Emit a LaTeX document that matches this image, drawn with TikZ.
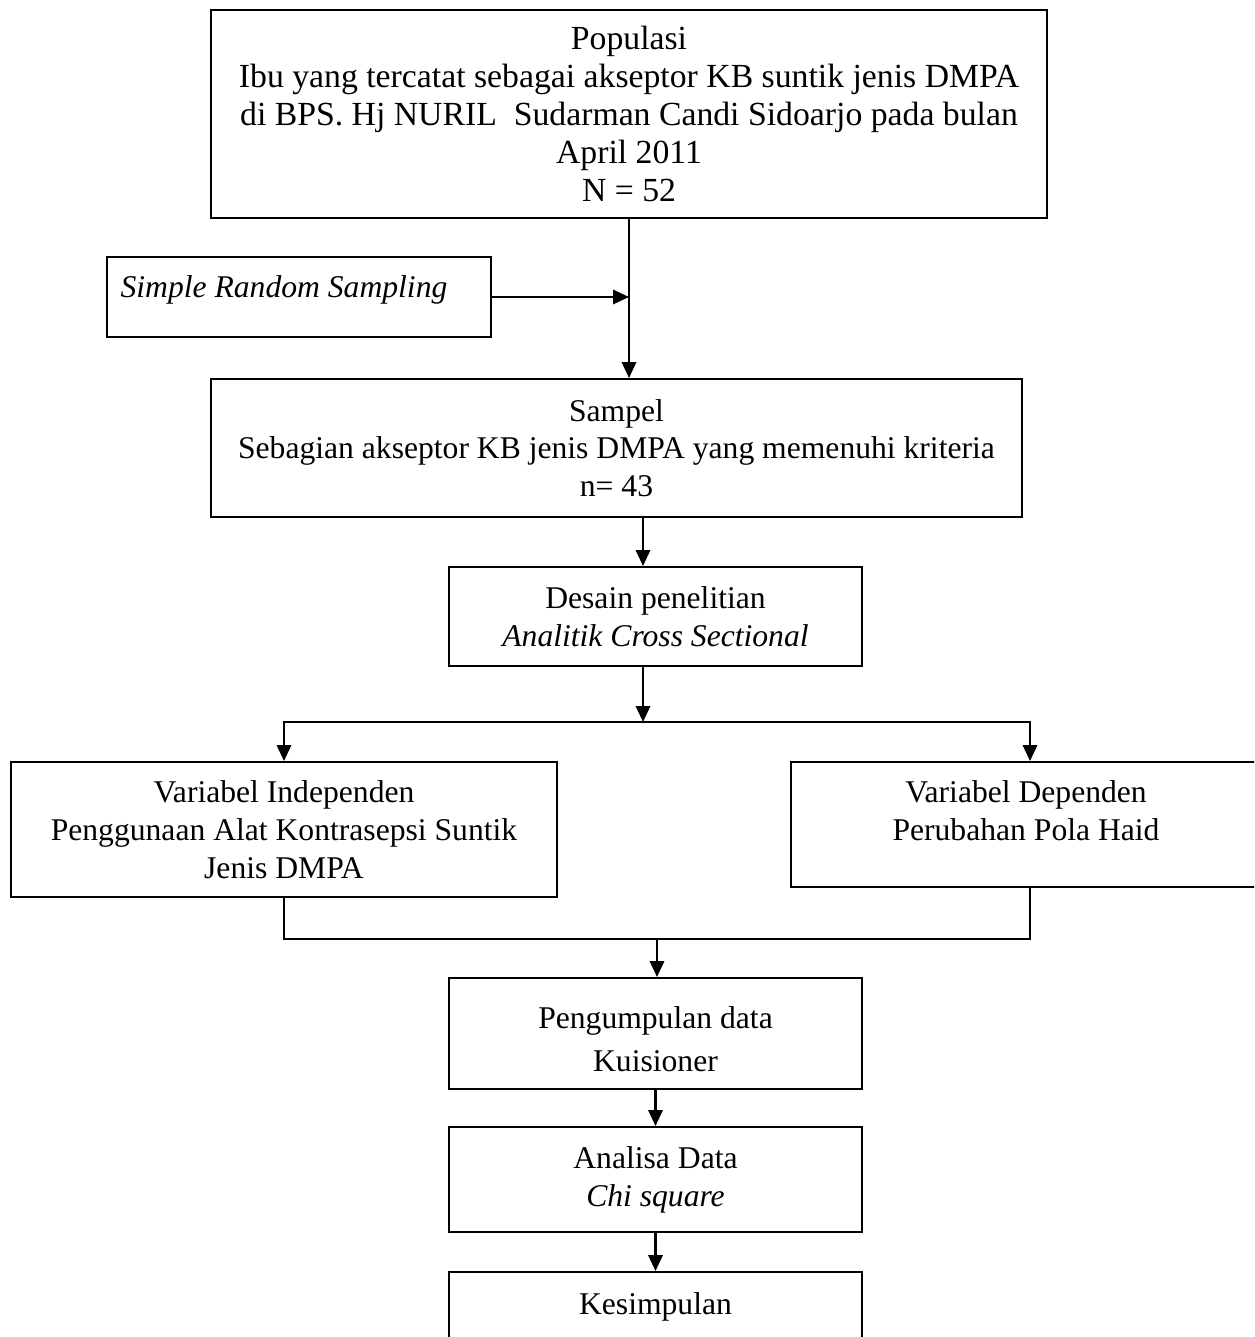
\documentclass[tikz,border=0pt]{standalone}
\usepackage{fontspec}
\setmainfont{Liberation Serif}
\usetikzlibrary{arrows.meta}
\begin{document}
\begin{tikzpicture}[x=0.02cm,y=-0.02cm,
        txt/.style={align=center,inner sep=0pt,font=\fontsize{18pt}{21.5pt}\selectfont},
        box/.style={txt,draw,line width=1.1pt},
        arr/.style={line width=1.5pt,-{Triangle[length=9pt,width=8pt]}},
        wire/.style={line width=1.1pt}]
        \useasboundingbox (0,0) rectangle (1254,1337);
        \clip (0,0) rectangle (1254,1337);
        %% population
        \node[box,font=\fontsize{19.2pt}{21.5pt}\selectfont,minimum width=16.72cm,minimum height=4.16cm] (pop) at (629,114) {Populasi\\Ibu yang tercatat sebagai akseptor KB suntik jenis DMPA\\di BPS. Hj NURIL\ \ Sudarman Candi Sidoarjo pada bulan\\April 2011\\N = 52};
        %% sampling technique
        \node[box,minimum width=7.68cm,minimum height=1.6cm] (srs) at (299,297) {};
        \node[txt] (srstxt) at (284,290) {\textit{Simple Random Sampling}};
        %% sample
        \node[box,minimum width=16.22cm,minimum height=2.76cm] (smp) at (616.5,448) {Sampel\\Sebagian akseptor KB jenis DMPA yang memenuhi kriteria\\n= 43};
        %% research design
        \node[box,minimum width=8.26cm,minimum height=1.98cm] (dsn) at (655.5,616.5) {Desain penelitian\\\textit{Analitik Cross Sectional}};
        %% variables
        \node[box,minimum width=10.92cm,minimum height=2.7cm] (ind) at (284,829.5) {Variabel Independen\\Penggunaan Alat Kontrasepsi Suntik\\Jenis DMPA};
        \node[box,minimum width=9.56cm,minimum height=2.5cm] (dep) at (1030,824.5) {};
        \node[txt] (deptxt) at (1026,811) {Variabel Dependen\\Perubahan Pola Haid};
        %% data, analysis, conclusion
        \node[box,minimum width=8.26cm,minimum height=2.22cm] (pgm) at (655.5,1033.5) {};
        \node[txt] (pgmtxt) at (655.5,1039) {Pengumpulan data\\[3pt]Kuisioner};
        \node[box,minimum width=8.26cm,minimum height=2.1cm] (ana) at (655.5,1179.5) {Analisa Data\\\textit{Chi square}};
        \node[box,minimum width=8.26cm,minimum height=1.4cm] (ksm) at (655.5,1307) {Kesimpulan};
        %% arrows
        \draw[arr] (pop.south) -- (pop.south |- smp.north);
        \draw[arr] (srs.east) -- (srs.east -| pop.south);
        \coordinate (a1) at ([xshift=-0.25cm]dsn.north);
        \draw[arr] (a1 |- smp.south) -- (a1);
        \coordinate (sp) at (643,722);
        \draw[arr] (dsn.south -| sp) -- (sp);
        \draw[arr] (sp) -| (ind.north);
        \draw[arr] (sp) -| (dep.north);
        \coordinate (jn) at (657,939);
        \draw[wire] (ind.south) |- (jn) -| (dep.south);
        \draw[arr] (jn) -- (jn |- pgm.north);
        \draw[arr] (pgm.south) -- (ana.north);
        \draw[arr] (ana.south) -- (ksm.north);
\end{tikzpicture}
\end{document}
